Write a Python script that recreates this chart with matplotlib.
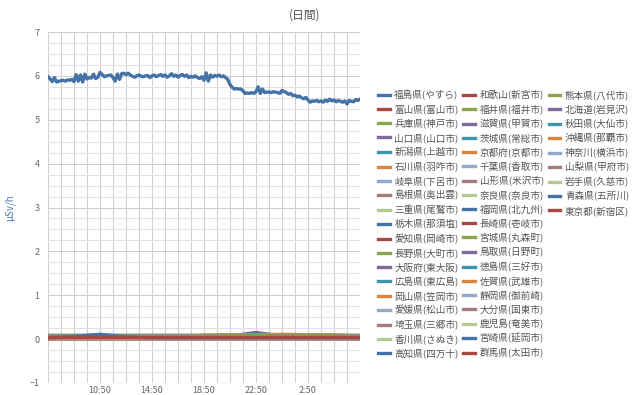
import matplotlib
matplotlib.use("Agg")
import matplotlib.pyplot as plt
from matplotlib.lines import Line2D
import numpy as np

plt.rcParams['font.family'] = ['Noto Sans CJK JP', 'DejaVu Sans']

# ---- data ----
title_text = "(日間)"
y_label = "μSv/h"
x_tick_hours = [4, 8, 12, 16, 20]
x_tick_labels = ["10:50", "14:50", "18:50", "22:50", "2:50"]
y_ticks = [-1, 0, 1, 2, 3, 4, 5, 6, 7]

palette = ['#4572A7', '#AA4643', '#89A54E', '#80699B', '#3D96AE',
           '#DB843D', '#92A8CD', '#A47D7C', '#B5CA92']

series_names = [
    "福島県(やすら)", "富山県(富山市)", "兵庫県(神戸市)", "山口県(山口市)", "新潟県(上越市)",
    "石川県(羽咋市)", "岐阜県(下呂市)", "島根県(奥出雲)", "三重県(尾鷲市)", "栃木県(那須塩)",
    "愛知県(岡崎市)", "長野県(大町市)", "大阪府(東大阪)", "広島県(東広島)", "岡山県(笠岡市)",
    "愛媛県(松山市)", "埼玉県(三郷市)", "香川県(さぬき)", "高知県(四万十)",
    "和歌山(新宮市)", "福井県(福井市)", "滋賀県(甲賀市)", "茨城県(常総市)", "京都府(京都市)",
    "千葉県(香取市)", "山形県(米沢市)", "奈良県(奈良市)", "福岡県(北九州)", "長崎県(壱岐市)",
    "宮城県(丸森町)", "鳥取県(日野町)", "徳島県(三好市)", "佐賀県(武雄市)", "静岡県(御前崎)",
    "大分県(国東市)", "鹿児島(奄美市)", "宮崎県(延岡市)", "群馬県(太田市)",
    "熊本県(八代市)", "北海道(岩見沢)", "秋田県(大仙市)", "沖縄県(那覇市)", "神奈川(横浜市)",
    "山梨県(甲府市)", "岩手県(久慈市)", "青森県(五所川)", "東京都(新宿区)",
]

# main series (福島), every 10 minutes over 24 h
fukushima_values = [
    5.98, 5.93, 5.87, 5.96, 5.86, 5.88,
    5.89, 5.90, 5.88, 5.91, 5.90, 5.92,
    5.87, 6.03, 5.88, 6.02, 5.86, 6.04,
    5.93, 5.96, 5.95, 6.04, 5.94, 5.97,
    6.08, 6.03, 5.98, 6.00, 6.01, 6.02,
    5.96, 5.88, 6.04, 5.92, 6.05, 6.06,
    6.03, 6.06, 6.02, 5.99, 5.97, 6.00,
    6.02, 5.99, 5.98, 6.00, 6.01, 5.96,
    6.00, 6.02, 5.98, 6.01, 6.03, 5.99,
    6.02, 5.97, 6.00, 6.05, 5.99, 6.02,
    5.97, 6.01, 6.03, 5.99, 6.02, 5.96,
    5.99, 5.97, 6.00, 5.96, 5.94, 5.98,
    5.90, 6.07, 5.88, 6.02, 5.97, 6.01,
    5.99, 6.02, 5.98, 6.00, 5.96, 5.92,
    5.80, 5.74, 5.70, 5.71, 5.70, 5.70,
    5.66, 5.60, 5.61, 5.60, 5.62, 5.60,
    5.64, 5.75, 5.60, 5.70, 5.62, 5.63,
    5.63, 5.62, 5.64, 5.63, 5.62, 5.60,
    5.67, 5.64, 5.62, 5.58, 5.60, 5.55,
    5.56, 5.52, 5.54, 5.50, 5.48, 5.51,
    5.45, 5.40, 5.43, 5.42, 5.44, 5.41,
    5.43, 5.40, 5.45, 5.42, 5.47, 5.43,
    5.45, 5.41, 5.44, 5.42, 5.40, 5.43,
    5.36, 5.44, 5.42, 5.41, 5.46, 5.44,
    5.47,
]
fukushima_hours = np.linspace(0, 24, len(fukushima_values))

# other 46 stations, every 2 hours over 24 h (same order as series_names[1:])
other_hours = [0, 2, 4, 6, 8, 10, 12, 14, 16, 18, 20, 22, 24]
other_values = [
    [0.05, 0.05, 0.05, 0.05, 0.05, 0.05, 0.05, 0.05, 0.05, 0.05, 0.05, 0.05, 0.05],  # 富山
    [0.04, 0.04, 0.04, 0.04, 0.04, 0.04, 0.04, 0.04, 0.04, 0.04, 0.04, 0.04, 0.04],  # 兵庫
    [0.09, 0.09, 0.09, 0.09, 0.09, 0.09, 0.09, 0.09, 0.09, 0.09, 0.09, 0.09, 0.09],  # 山口
    [0.05, 0.05, 0.05, 0.05, 0.05, 0.05, 0.05, 0.05, 0.06, 0.05, 0.05, 0.05, 0.05],  # 新潟
    [0.05, 0.05, 0.05, 0.05, 0.05, 0.05, 0.05, 0.05, 0.05, 0.05, 0.05, 0.05, 0.05],  # 石川
    [0.06, 0.06, 0.06, 0.06, 0.06, 0.06, 0.06, 0.06, 0.06, 0.06, 0.06, 0.06, 0.06],  # 岐阜
    [0.04, 0.04, 0.04, 0.04, 0.04, 0.04, 0.04, 0.04, 0.04, 0.04, 0.04, 0.04, 0.04],  # 島根
    [0.05, 0.05, 0.05, 0.05, 0.05, 0.05, 0.05, 0.05, 0.05, 0.05, 0.05, 0.05, 0.05],  # 三重
    [0.06, 0.06, 0.06, 0.06, 0.06, 0.06, 0.06, 0.07, 0.15, 0.07, 0.06, 0.06, 0.06],  # 栃木
    [0.04, 0.04, 0.04, 0.04, 0.04, 0.04, 0.04, 0.04, 0.04, 0.04, 0.04, 0.04, 0.04],  # 愛知
    [0.05, 0.05, 0.05, 0.05, 0.05, 0.05, 0.05, 0.05, 0.05, 0.05, 0.05, 0.05, 0.05],  # 長野
    [0.04, 0.04, 0.04, 0.04, 0.04, 0.04, 0.04, 0.04, 0.04, 0.04, 0.04, 0.04, 0.04],  # 大阪
    [0.05, 0.05, 0.05, 0.05, 0.05, 0.05, 0.05, 0.05, 0.05, 0.05, 0.05, 0.05, 0.05],  # 広島
    [0.06, 0.06, 0.06, 0.06, 0.06, 0.06, 0.09, 0.10, 0.10, 0.11, 0.10, 0.10, 0.07],  # 岡山
    [0.05, 0.05, 0.05, 0.05, 0.05, 0.05, 0.05, 0.05, 0.05, 0.05, 0.05, 0.05, 0.05],  # 愛媛
    [0.06, 0.06, 0.06, 0.06, 0.06, 0.06, 0.06, 0.06, 0.06, 0.06, 0.06, 0.06, 0.06],  # 埼玉
    [0.06, 0.06, 0.06, 0.06, 0.06, 0.06, 0.06, 0.06, 0.06, 0.06, 0.06, 0.06, 0.06],  # 香川
    [0.03, 0.03, 0.03, 0.03, 0.03, 0.03, 0.03, 0.03, 0.03, 0.03, 0.03, 0.03, 0.03],  # 高知
    [0.03, 0.03, 0.03, 0.03, 0.03, 0.03, 0.03, 0.03, 0.03, 0.03, 0.03, 0.03, 0.03],  # 和歌山
    [0.05, 0.05, 0.05, 0.05, 0.05, 0.05, 0.05, 0.05, 0.05, 0.05, 0.05, 0.05, 0.05],  # 福井
    [0.04, 0.04, 0.04, 0.04, 0.04, 0.04, 0.04, 0.04, 0.04, 0.04, 0.04, 0.04, 0.04],  # 滋賀
    [0.09, 0.09, 0.09, 0.09, 0.09, 0.09, 0.09, 0.09, 0.09, 0.09, 0.09, 0.09, 0.09],  # 茨城
    [0.04, 0.04, 0.04, 0.04, 0.04, 0.04, 0.04, 0.04, 0.04, 0.04, 0.04, 0.04, 0.04],  # 京都
    [0.05, 0.05, 0.05, 0.05, 0.05, 0.05, 0.05, 0.05, 0.05, 0.05, 0.05, 0.05, 0.05],  # 千葉
    [0.05, 0.05, 0.05, 0.05, 0.05, 0.05, 0.05, 0.05, 0.05, 0.05, 0.05, 0.05, 0.05],  # 山形
    [0.05, 0.05, 0.05, 0.05, 0.05, 0.05, 0.05, 0.05, 0.05, 0.05, 0.05, 0.05, 0.05],  # 奈良
    [0.04, 0.04, 0.04, 0.04, 0.04, 0.04, 0.04, 0.04, 0.04, 0.04, 0.04, 0.04, 0.04],  # 福岡
    [0.03, 0.03, 0.03, 0.03, 0.03, 0.03, 0.03, 0.03, 0.03, 0.03, 0.03, 0.03, 0.03],  # 長崎
    [0.09, 0.09, 0.09, 0.09, 0.09, 0.09, 0.09, 0.09, 0.09, 0.09, 0.09, 0.09, 0.09],  # 宮城
    [0.06, 0.06, 0.06, 0.06, 0.06, 0.06, 0.06, 0.06, 0.06, 0.06, 0.06, 0.06, 0.06],  # 鳥取
    [0.04, 0.04, 0.04, 0.04, 0.04, 0.04, 0.04, 0.04, 0.04, 0.04, 0.04, 0.04, 0.04],  # 徳島
    [0.04, 0.04, 0.04, 0.04, 0.04, 0.04, 0.04, 0.04, 0.04, 0.04, 0.04, 0.04, 0.04],  # 佐賀
    [0.04, 0.04, 0.04, 0.04, 0.04, 0.04, 0.04, 0.04, 0.04, 0.04, 0.04, 0.04, 0.04],  # 静岡
    [0.05, 0.05, 0.05, 0.05, 0.05, 0.05, 0.05, 0.05, 0.05, 0.05, 0.05, 0.05, 0.05],  # 大分
    [0.02, 0.02, 0.02, 0.02, 0.02, 0.02, 0.02, 0.02, 0.02, 0.02, 0.02, 0.02, 0.02],  # 鹿児島
    [0.03, 0.03, 0.03, 0.03, 0.03, 0.03, 0.03, 0.03, 0.03, 0.03, 0.03, 0.03, 0.03],  # 宮崎
    [0.03, 0.03, 0.03, 0.03, 0.03, 0.03, 0.03, 0.03, 0.03, 0.03, 0.03, 0.03, 0.03],  # 群馬
    [0.03, 0.03, 0.03, 0.03, 0.03, 0.03, 0.03, 0.03, 0.03, 0.03, 0.03, 0.03, 0.03],  # 熊本
    [0.03, 0.03, 0.03, 0.03, 0.03, 0.03, 0.03, 0.03, 0.03, 0.03, 0.03, 0.03, 0.03],  # 北海道
    [0.04, 0.04, 0.04, 0.04, 0.04, 0.04, 0.04, 0.04, 0.04, 0.04, 0.04, 0.04, 0.04],  # 秋田
    [0.02, 0.02, 0.02, 0.02, 0.02, 0.02, 0.02, 0.02, 0.02, 0.02, 0.02, 0.02, 0.02],  # 沖縄
    [0.04, 0.04, 0.04, 0.04, 0.04, 0.04, 0.04, 0.04, 0.04, 0.04, 0.04, 0.04, 0.04],  # 神奈川
    [0.04, 0.04, 0.04, 0.04, 0.04, 0.04, 0.04, 0.04, 0.04, 0.04, 0.04, 0.04, 0.04],  # 山梨
    [0.05, 0.05, 0.05, 0.05, 0.05, 0.05, 0.05, 0.05, 0.05, 0.05, 0.05, 0.05, 0.05],  # 岩手
    [0.03, 0.06, 0.11, 0.05, 0.03, 0.03, 0.03, 0.03, 0.03, 0.03, 0.03, 0.03, 0.03],  # 青森
    [0.04, 0.04, 0.04, 0.04, 0.04, 0.04, 0.04, 0.04, 0.04, 0.04, 0.04, 0.04, 0.04],  # 東京
]

# ---- figure ----
W, H = 640, 395
fig = plt.figure(figsize=(W / 100, H / 100), dpi=100)
ax = fig.add_axes([48 / W, 1 - 383 / H, (360 - 48) / W, (383 - 32) / H])

lw = 2.4
handles = []
h, = ax.plot(fukushima_hours, fukushima_values, color=palette[0], lw=lw,
             label=series_names[0], solid_joinstyle='round', zorder=3)
handles.append(h)
for i, vals in enumerate(other_values, start=1):
    h, = ax.plot(other_hours, vals, color=palette[i % len(palette)], lw=lw,
                 label=series_names[i], solid_joinstyle='round', zorder=3)
    handles.append(h)

ax.set_xlim(0, 24)
ax.set_ylim(-1, 7)
ax.set_xticks(range(0, 25))
ax.set_xticklabels([x_tick_labels[x_tick_hours.index(h)] if h in x_tick_hours else ""
                    for h in range(0, 25)])
ax.set_yticks(y_ticks)
ax.set_yticks(np.arange(-1, 7.01, 0.25), minor=True)
ax.grid(True, which='major', color='#d0d0d0', lw=0.8)
ax.grid(True, which='minor', axis='y', color='#e2e2e2', lw=0.7)
ax.tick_params(axis='both', which='both', length=0, colors='#666666', labelsize=6.5)
ax.tick_params(axis='x', pad=2)
ax.tick_params(axis='y', pad=6)
for s in ax.spines.values():
    s.set_visible(False)
ax.set_axisbelow(True)

ax.set_ylabel(y_label, color='#4a7ab5', fontsize=7)
ax.yaxis.set_label_coords(-(48 - 15) / (360 - 48), 0.5)

fig.text(305 / W, 1 - 15 / H, title_text, ha='center', va='center',
         color='#555555', fontsize=8.5)

# legend laid out as 19 / 19 / 9 (padding the third column with empty slots)
labels = list(series_names)
n_blank = 19 * 3 - len(handles)
blank = Line2D([], [], color='none')
leg_handles = handles + [blank] * n_blank
leg_labels = labels + [""] * n_blank

leg = fig.legend(leg_handles, leg_labels, loc='upper left',
                 bbox_to_anchor=(378 / W, 1 - 90 / H),
                 ncol=3, frameon=False, fontsize=6.9,
                 handlelength=1.2, handletextpad=0.5, columnspacing=0.5,
                 labelspacing=0.45, borderpad=0, borderaxespad=0)
for t in leg.get_texts():
    t.set_color('#555555')

fig.savefig("out.png", dpi=100)
